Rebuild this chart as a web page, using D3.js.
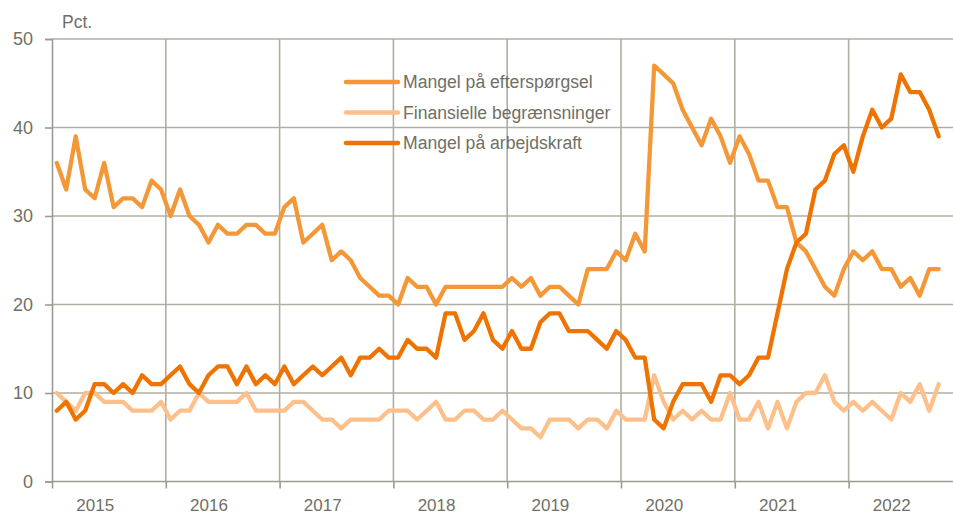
<!DOCTYPE html>
<html>
<head>
<meta charset="utf-8">
<script src="https://cdn.jsdelivr.net/npm/d3@7.9.0/dist/d3.min.js"></script>
<style>
  html, body { margin: 0; padding: 0; background: #fff; }
  svg { display: block; font-family: "Liberation Sans", Arial, sans-serif; }
</style>
</head>
<body>
<svg id="chart" width="953" height="517"></svg>
<script>
/* ──── data: monthly, Jan 2015 – Oct 2022 ──── */
const years = ['2015', '2016', '2017', '2018', '2019', '2020', '2021', '2022'];
const yTicks = [0, 10, 20, 30, 40, 50];

const demand = [
  36, 33, 39, 33, 32, 36, 31, 32, 32, 31, 34, 33,
  30, 33, 30, 29, 27, 29, 28, 28, 29, 29, 28, 28,
  31, 32, 27, 28, 29, 25, 26, 25, 23, 22, 21, 21,
  20, 23, 22, 22, 20, 22, 22, 22, 22, 22, 22, 22,
  23, 22, 23, 21, 22, 22, 21, 20, 24, 24, 24, 26,
  25, 28, 26, 47, 46, 45, 42, 40, 38, 41, 39, 36,
  39, 37, 34, 34, 31, 31, 27, 26, 24, 22, 21, 24,
  26, 25, 26, 24, 24, 22, 23, 21, 24, 24
];
const financial = [
  10, 9, 8, 10, 10, 9, 9, 9, 8, 8, 8, 9,
  7, 8, 8, 10, 9, 9, 9, 9, 10, 8, 8, 8,
  8, 9, 9, 8, 7, 7, 6, 7, 7, 7, 7, 8,
  8, 8, 7, 8, 9, 7, 7, 8, 8, 7, 7, 8,
  7, 6, 6, 5, 7, 7, 7, 6, 7, 7, 6, 8,
  7, 7, 7, 12, 9, 7, 8, 7, 8, 7, 7, 10,
  7, 7, 9, 6, 9, 6, 9, 10, 10, 12, 9, 8,
  9, 8, 9, 8, 7, 10, 9, 11, 8, 11
];
const labour = [
  8, 9, 7, 8, 11, 11, 10, 11, 10, 12, 11, 11,
  12, 13, 11, 10, 12, 13, 13, 11, 13, 11, 12, 11,
  13, 11, 12, 13, 12, 13, 14, 12, 14, 14, 15, 14,
  14, 16, 15, 15, 14, 19, 19, 16, 17, 19, 16, 15,
  17, 15, 15, 18, 19, 19, 17, 17, 17, 16, 15, 17,
  16, 14, 14, 7, 6, 9, 11, 11, 11, 9, 12, 12,
  11, 12, 14, 14, 19, 24, 27, 28, 33, 34, 37, 38,
  35, 39, 42, 40, 41, 46, 44, 44, 42, 39
];

const series = [
  { name: 'Finansielle begrænsninger', values: financial, color: '#fdc08b' },
  { name: 'Mangel på efterspørgsel',   values: demand,    color: '#f49736' },
  { name: 'Mangel på arbejdskraft',    values: labour,    color: '#ef7300' }
];
const legendOrder = [1, 0, 2];

/* ──── layout ──── */
const width  = 953;
const plot   = { left: 52, top: 39, bottom: 481.5, yearPx: 113.8 };

const svg = d3.select('#chart');

const x = d3.scaleLinear()
  .domain([0, years.length * 12])
  .range([plot.left, plot.left + years.length * plot.yearPx]);

const y = d3.scaleLinear()
  .domain([0, 50])
  .range([plot.bottom, plot.top]);

const gridColor = '#b0aea2';
const axisColor = '#9b9b95';
const textColor = '#707064';

/* ──── grid ──── */
const grid = svg.append('g');

grid.selectAll('line.h')
  .data(yTicks.filter(d => d > 0))
  .join('line')
  .attr('class', 'h')
  .attr('x1', plot.left).attr('x2', width)
  .attr('y1', d => y(d)).attr('y2', d => y(d))
  .attr('stroke', gridColor).attr('stroke-width', 1.6);

grid.selectAll('line.v')
  .data(d3.range(1, years.length).map(i => i * 12))
  .join('line')
  .attr('class', 'v')
  .attr('x1', d => x(d)).attr('x2', d => x(d))
  .attr('y1', y(50)).attr('y2', y(0))
  .attr('stroke', gridColor).attr('stroke-width', 1.6);

/* ──── axes ──── */
const yAxis = svg.append('g')
  .attr('transform', `translate(${plot.left},0)`)
  .call(d3.axisLeft(y).tickValues(yTicks).tickSize(7).tickPadding(12));

const xTickMarks = svg.append('g')
  .attr('transform', `translate(0,${plot.bottom})`)
  .call(d3.axisBottom(x)
    .tickValues(d3.range(0, years.length).map(i => i * 12))
    .tickSize(7)
    .tickFormat(''));

// year labels sit a little left of each year's midpoint
const xLabels = svg.append('g')
  .attr('transform', `translate(0,${plot.bottom})`)
  .call(d3.axisBottom(x)
    .tickValues(years.map((d, i) => i * 12 + 4.5))
    .tickSize(0)
    .tickPadding(17)
    .tickFormat((d, i) => years[i]));
xLabels.select('.domain').remove();

[yAxis, xTickMarks].forEach(g => {
  g.select('.domain').attr('stroke', axisColor).attr('stroke-width', 1.6);
  g.selectAll('.tick line').attr('stroke', axisColor).attr('stroke-width', 1.6);
});
xTickMarks.select('.domain').attr('d', `M${plot.left},0H${width}`);

svg.selectAll('.tick text')
  .attr('fill', textColor)
  .style('font-size', '18px')
  .style('font-family', '"Liberation Sans", Arial, sans-serif');
xLabels.selectAll('.tick text').style('font-size', '17px');

svg.append('text')
  .attr('x', 62).attr('y', 28)
  .attr('fill', textColor)
  .style('font-size', '17.5px')
  .text('Pct.');

/* ──── lines ──── */
const line = d3.line()
  .x((d, i) => x(i + 0.5))
  .y(d => y(d));

svg.append('g')
  .selectAll('path')
  .data(series)
  .join('path')
  .attr('d', d => line(d.values))
  .attr('fill', 'none')
  .attr('stroke', d => d.color)
  .attr('stroke-width', 4.3)
  .attr('stroke-linejoin', 'round')
  .attr('stroke-linecap', 'round');

/* ──── legend ──── */
const legend = svg.append('g')
  .attr('transform', 'translate(346,82)');

const item = legend.selectAll('g')
  .data(legendOrder.map(i => series[i]))
  .join('g')
  .attr('transform', (d, i) => `translate(0,${i * 30.5})`);

item.append('line')
  .attr('x1', 0).attr('x2', 52)
  .attr('stroke', d => d.color)
  .attr('stroke-width', 4.5)
  .attr('stroke-linecap', 'round');

item.append('text')
  .attr('x', 57).attr('dy', '0.35em')
  .attr('fill', textColor)
  .style('font-size', '17.6px')
  .text(d => d.name);
</script>
</body>
</html>
